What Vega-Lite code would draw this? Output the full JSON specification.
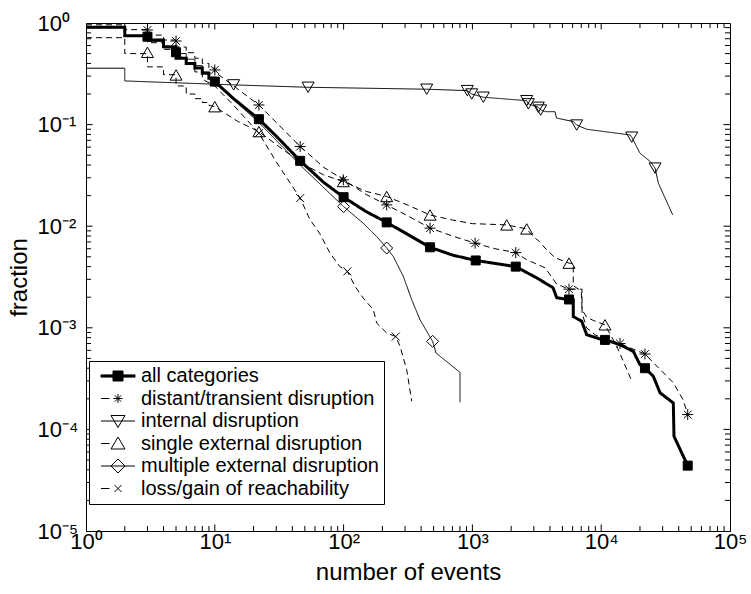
{
  "$schema": "https://vega.github.io/schema/vega-lite/v6.json",
  "width": 644,
  "height": 508,
  "autosize": "none",
  "padding": {"left": 86, "top": 23, "right": 21, "bottom": 63},
  "background": "white",
  "config": {
    "font": "Liberation Sans",
    "view": {"stroke": "black", "strokeWidth": 1},
    "axis": {"grid": false, "domainColor": "black", "labelColor": "black", "titleColor": "black", "titleFontWeight": "normal", "labelFont": "Liberation Sans", "titleFont": "Liberation Sans"}
  },
  "datasets": {
    "xticks": [{"v":2},{"v":3},{"v":4},{"v":5},{"v":6},{"v":7},{"v":8},{"v":9},{"v":20},{"v":30},{"v":40},{"v":50},{"v":60},{"v":70},{"v":80},{"v":90},{"v":200},{"v":300},{"v":400},{"v":500},{"v":600},{"v":700},{"v":800},{"v":900},{"v":2000},{"v":3000},{"v":4000},{"v":5000},{"v":6000},{"v":7000},{"v":8000},{"v":9000},{"v":20000},{"v":30000},{"v":40000},{"v":50000},{"v":60000},{"v":70000},{"v":80000},{"v":90000}],
    "xmajor": [{"v":10},{"v":100},{"v":1000},{"v":10000}],
    "yticks": [{"v":0.00002},{"v":0.00003},{"v":0.00004},{"v":0.00005},{"v":0.00006},{"v":0.00007},{"v":0.00008},{"v":0.00009},{"v":0.0002},{"v":0.0003},{"v":0.0004},{"v":0.0005},{"v":0.0006},{"v":0.0007},{"v":0.0008},{"v":0.0009},{"v":0.002},{"v":0.003},{"v":0.004},{"v":0.005},{"v":0.006},{"v":0.007},{"v":0.008},{"v":0.009},{"v":0.02},{"v":0.03},{"v":0.04},{"v":0.05},{"v":0.06},{"v":0.07},{"v":0.08},{"v":0.09},{"v":0.2},{"v":0.3},{"v":0.4},{"v":0.5},{"v":0.6},{"v":0.7},{"v":0.8},{"v":0.9}],
    "ymajor": [{"v":0.0001},{"v":0.001},{"v":0.01},{"v":0.1}],
    "lines": [
      {"s":"all","i":1,"x":1,"y":0.907},{"s":"all","i":2,"x":2,"y":0.907},{"s":"all","i":3,"x":2,"y":0.75},{"s":"all","i":4,"x":3,"y":0.75},{"s":"all","i":5,"x":3,"y":0.68},{"s":"all","i":6,"x":4,"y":0.68},{"s":"all","i":7,"x":4,"y":0.585},{"s":"all","i":8,"x":5,"y":0.585},{"s":"all","i":9,"x":5,"y":0.45},{"s":"all","i":10,"x":6,"y":0.45},{"s":"all","i":11,"x":6,"y":0.40},{"s":"all","i":12,"x":7,"y":0.40},{"s":"all","i":13,"x":7,"y":0.36},{"s":"all","i":14,"x":8,"y":0.36},{"s":"all","i":15,"x":8,"y":0.32},{"s":"all","i":16,"x":9,"y":0.32},{"s":"all","i":17,"x":9,"y":0.286},{"s":"all","i":18,"x":10,"y":0.286},{"s":"all","i":19,"x":10,"y":0.265},{"s":"all","i":20,"x":14,"y":0.18},{"s":"all","i":21,"x":22,"y":0.113},{"s":"all","i":22,"x":30,"y":0.077},{"s":"all","i":23,"x":46,"y":0.044},{"s":"all","i":24,"x":70,"y":0.027},{"s":"all","i":25,"x":100,"y":0.0193},{"s":"all","i":26,"x":150,"y":0.0139},{"s":"all","i":27,"x":216,"y":0.0109},{"s":"all","i":28,"x":320,"y":0.0082},{"s":"all","i":29,"x":469,"y":0.0062},{"s":"all","i":30,"x":700,"y":0.0052},{"s":"all","i":31,"x":1061,"y":0.0046},{"s":"all","i":32,"x":1500,"y":0.0043},{"s":"all","i":33,"x":2170,"y":0.0040},{"s":"all","i":34,"x":3157,"y":0.0031},{"s":"all","i":35,"x":4227,"y":0.00248},{"s":"all","i":36,"x":4510,"y":0.00198},{"s":"all","i":37,"x":5623,"y":0.00189},{"s":"all","i":38,"x":6070,"y":0.00189},{"s":"all","i":39,"x":6070,"y":0.00129},{"s":"all","i":40,"x":7060,"y":0.00116},{"s":"all","i":41,"x":7715,"y":0.000855},{"s":"all","i":42,"x":9790,"y":0.000776},{"s":"all","i":43,"x":10700,"y":0.000764},{"s":"all","i":44,"x":14000,"y":0.000682},{"s":"all","i":45,"x":17760,"y":0.000586},{"s":"all","i":46,"x":20000,"y":0.000434},{"s":"all","i":47,"x":21870,"y":0.000402},{"s":"all","i":48,"x":25400,"y":0.000333},{"s":"all","i":49,"x":28640,"y":0.000229},{"s":"all","i":50,"x":36300,"y":0.000182},{"s":"all","i":51,"x":36740,"y":0.0000855},{"s":"all","i":52,"x":46950,"y":0.000044},

      {"s":"dist","i":1,"x":1,"y":0.96},{"s":"dist","i":2,"x":2,"y":0.96},{"s":"dist","i":3,"x":2,"y":0.86},{"s":"dist","i":4,"x":3,"y":0.86},{"s":"dist","i":5,"x":3,"y":0.76},{"s":"dist","i":6,"x":4,"y":0.76},{"s":"dist","i":7,"x":4,"y":0.68},{"s":"dist","i":8,"x":5,"y":0.68},{"s":"dist","i":9,"x":5,"y":0.58},{"s":"dist","i":10,"x":6,"y":0.58},{"s":"dist","i":11,"x":6,"y":0.51},{"s":"dist","i":12,"x":7,"y":0.51},{"s":"dist","i":13,"x":7,"y":0.45},{"s":"dist","i":14,"x":8,"y":0.45},{"s":"dist","i":15,"x":8,"y":0.40},{"s":"dist","i":16,"x":9,"y":0.40},{"s":"dist","i":17,"x":9,"y":0.36},{"s":"dist","i":18,"x":10,"y":0.36},{"s":"dist","i":19,"x":10,"y":0.33},{"s":"dist","i":20,"x":14,"y":0.24},{"s":"dist","i":21,"x":22,"y":0.156},{"s":"dist","i":22,"x":30,"y":0.105},{"s":"dist","i":23,"x":46,"y":0.061},{"s":"dist","i":24,"x":70,"y":0.038},{"s":"dist","i":25,"x":100,"y":0.0286},{"s":"dist","i":26,"x":150,"y":0.0205},{"s":"dist","i":27,"x":216,"y":0.0162},{"s":"dist","i":28,"x":320,"y":0.0125},{"s":"dist","i":29,"x":469,"y":0.0096},{"s":"dist","i":30,"x":700,"y":0.008},{"s":"dist","i":31,"x":1050,"y":0.0068},{"s":"dist","i":32,"x":1500,"y":0.006},{"s":"dist","i":33,"x":2170,"y":0.0055},{"s":"dist","i":34,"x":2620,"y":0.0047},{"s":"dist","i":35,"x":3660,"y":0.0039},{"s":"dist","i":36,"x":4100,"y":0.0032},{"s":"dist","i":37,"x":4500,"y":0.0027},{"s":"dist","i":38,"x":5623,"y":0.0024},{"s":"dist","i":39,"x":7100,"y":0.0024},{"s":"dist","i":40,"x":7100,"y":0.0014},{"s":"dist","i":41,"x":7700,"y":0.001},{"s":"dist","i":42,"x":9000,"y":0.00085},{"s":"dist","i":43,"x":11000,"y":0.00076},{"s":"dist","i":44,"x":14000,"y":0.0007},{"s":"dist","i":45,"x":17000,"y":0.00063},{"s":"dist","i":46,"x":21870,"y":0.000552},{"s":"dist","i":47,"x":27000,"y":0.00042},{"s":"dist","i":48,"x":36300,"y":0.000288},{"s":"dist","i":49,"x":43200,"y":0.000196},{"s":"dist","i":50,"x":46950,"y":0.00014},

      {"s":"int","i":1,"x":1,"y":0.359},{"s":"int","i":2,"x":2,"y":0.359},{"s":"int","i":3,"x":2,"y":0.269},{"s":"int","i":4,"x":14,"y":0.246},{"s":"int","i":5,"x":53,"y":0.233},{"s":"int","i":6,"x":442,"y":0.223},{"s":"int","i":7,"x":913,"y":0.216},{"s":"int","i":8,"x":988,"y":0.2},{"s":"int","i":9,"x":1216,"y":0.186},{"s":"int","i":10,"x":2640,"y":0.172},{"s":"int","i":11,"x":2720,"y":0.16},{"s":"int","i":12,"x":3250,"y":0.148},{"s":"int","i":13,"x":3390,"y":0.139},{"s":"int","i":14,"x":3700,"y":0.134},{"s":"int","i":15,"x":4380,"y":0.134},{"s":"int","i":16,"x":4500,"y":0.116},{"s":"int","i":17,"x":6080,"y":0.107},{"s":"int","i":18,"x":6450,"y":0.099},{"s":"int","i":19,"x":7710,"y":0.09},{"s":"int","i":20,"x":16800,"y":0.079},{"s":"int","i":21,"x":17260,"y":0.0752},{"s":"int","i":22,"x":20000,"y":0.0523},{"s":"int","i":23,"x":24000,"y":0.0434},{"s":"int","i":24,"x":26180,"y":0.0373},{"s":"int","i":25,"x":27800,"y":0.0265},{"s":"int","i":26,"x":35890,"y":0.01294},

      {"s":"single","i":1,"x":1,"y":0.717},{"s":"single","i":2,"x":2,"y":0.717},{"s":"single","i":3,"x":2,"y":0.5},{"s":"single","i":4,"x":3,"y":0.5},{"s":"single","i":5,"x":3,"y":0.37},{"s":"single","i":6,"x":4,"y":0.37},{"s":"single","i":7,"x":4,"y":0.31},{"s":"single","i":8,"x":5,"y":0.31},{"s":"single","i":9,"x":5,"y":0.24},{"s":"single","i":10,"x":6,"y":0.24},{"s":"single","i":11,"x":6,"y":0.2},{"s":"single","i":12,"x":7,"y":0.2},{"s":"single","i":13,"x":7,"y":0.18},{"s":"single","i":14,"x":8,"y":0.18},{"s":"single","i":15,"x":8,"y":0.165},{"s":"single","i":16,"x":9,"y":0.165},{"s":"single","i":17,"x":9,"y":0.155},{"s":"single","i":18,"x":10,"y":0.15},{"s":"single","i":19,"x":15,"y":0.108},{"s":"single","i":20,"x":22,"y":0.0853},{"s":"single","i":21,"x":35,"y":0.055},{"s":"single","i":22,"x":50,"y":0.04},{"s":"single","i":23,"x":70,"y":0.032},{"s":"single","i":24,"x":100,"y":0.0275},{"s":"single","i":25,"x":150,"y":0.022},{"s":"single","i":26,"x":216,"y":0.0196},{"s":"single","i":27,"x":320,"y":0.016},{"s":"single","i":28,"x":469,"y":0.0129},{"s":"single","i":29,"x":700,"y":0.0115},{"s":"single","i":30,"x":1000,"y":0.0106},{"s":"single","i":31,"x":1846,"y":0.0103},{"s":"single","i":32,"x":2640,"y":0.0094},{"s":"single","i":33,"x":2970,"y":0.0079},{"s":"single","i":34,"x":3300,"y":0.0071},{"s":"single","i":35,"x":3660,"y":0.0061},{"s":"single","i":36,"x":4380,"y":0.0049},{"s":"single","i":37,"x":5623,"y":0.00433},{"s":"single","i":38,"x":6070,"y":0.0043},{"s":"single","i":39,"x":6070,"y":0.0026},{"s":"single","i":40,"x":7000,"y":0.0023},{"s":"single","i":41,"x":7100,"y":0.0015},{"s":"single","i":42,"x":7700,"y":0.00128},{"s":"single","i":43,"x":8700,"y":0.00118},{"s":"single","i":44,"x":10700,"y":0.00107},{"s":"single","i":45,"x":13200,"y":0.00066},{"s":"single","i":46,"x":17260,"y":0.0003},

      {"s":"multi","i":1,"x":1,"y":0.9},{"s":"multi","i":2,"x":2,"y":0.9},{"s":"multi","i":3,"x":2,"y":0.74},{"s":"multi","i":4,"x":3,"y":0.74},{"s":"multi","i":5,"x":3,"y":0.66},{"s":"multi","i":6,"x":4,"y":0.66},{"s":"multi","i":7,"x":4,"y":0.57},{"s":"multi","i":8,"x":5,"y":0.57},{"s":"multi","i":9,"x":5,"y":0.5},{"s":"multi","i":10,"x":6,"y":0.5},{"s":"multi","i":11,"x":6,"y":0.44},{"s":"multi","i":12,"x":7,"y":0.44},{"s":"multi","i":13,"x":7,"y":0.38},{"s":"multi","i":14,"x":8,"y":0.38},{"s":"multi","i":15,"x":8,"y":0.33},{"s":"multi","i":16,"x":9,"y":0.33},{"s":"multi","i":17,"x":9,"y":0.29},{"s":"multi","i":18,"x":10,"y":0.29},{"s":"multi","i":19,"x":10,"y":0.26},{"s":"multi","i":20,"x":14,"y":0.175},{"s":"multi","i":21,"x":22,"y":0.105},{"s":"multi","i":22,"x":46,"y":0.04},{"s":"multi","i":23,"x":70,"y":0.024},{"s":"multi","i":24,"x":100,"y":0.0156},{"s":"multi","i":25,"x":142,"y":0.0107},{"s":"multi","i":26,"x":181,"y":0.0079},{"s":"multi","i":27,"x":216,"y":0.0061},{"s":"multi","i":28,"x":243,"y":0.00504},{"s":"multi","i":29,"x":291,"y":0.0032},{"s":"multi","i":30,"x":338,"y":0.00189},{"s":"multi","i":31,"x":392,"y":0.0012},{"s":"multi","i":32,"x":491,"y":0.000735},{"s":"multi","i":33,"x":522,"y":0.000565},{"s":"multi","i":34,"x":801,"y":0.000364},{"s":"multi","i":35,"x":801,"y":0.000185},

      {"s":"loss","i":1,"x":1,"y":0.9},{"s":"loss","i":2,"x":2,"y":0.9},{"s":"loss","i":3,"x":2,"y":0.74},{"s":"loss","i":4,"x":3,"y":0.74},{"s":"loss","i":5,"x":3,"y":0.64},{"s":"loss","i":6,"x":4,"y":0.64},{"s":"loss","i":7,"x":4,"y":0.55},{"s":"loss","i":8,"x":5,"y":0.55},{"s":"loss","i":9,"x":5,"y":0.46},{"s":"loss","i":10,"x":6,"y":0.46},{"s":"loss","i":11,"x":6,"y":0.39},{"s":"loss","i":12,"x":7,"y":0.39},{"s":"loss","i":13,"x":7,"y":0.33},{"s":"loss","i":14,"x":8,"y":0.33},{"s":"loss","i":15,"x":8,"y":0.28},{"s":"loss","i":16,"x":10,"y":0.24},{"s":"loss","i":17,"x":14,"y":0.155},{"s":"loss","i":18,"x":22,"y":0.0823},{"s":"loss","i":19,"x":30,"y":0.043},{"s":"loss","i":20,"x":46,"y":0.0189},{"s":"loss","i":21,"x":54.8,"y":0.0116},{"s":"loss","i":22,"x":65,"y":0.00855},{"s":"loss","i":23,"x":78.4,"y":0.00544},{"s":"loss","i":24,"x":93.6,"y":0.004},{"s":"loss","i":25,"x":107,"y":0.00359},{"s":"loss","i":26,"x":123,"y":0.00255},{"s":"loss","i":27,"x":142,"y":0.00196},{"s":"loss","i":28,"x":170,"y":0.00151},{"s":"loss","i":29,"x":181,"y":0.00111},{"s":"loss","i":30,"x":216,"y":0.00089},{"s":"loss","i":31,"x":254,"y":0.00082},{"s":"loss","i":32,"x":274,"y":0.00066},{"s":"loss","i":33,"x":309,"y":0.000387},{"s":"loss","i":34,"x":338,"y":0.000189}
    ],
    "marks": [
      {"s":"all","x":3,"y":0.733},{"s":"all","x":5,"y":0.515},{"s":"all","x":10,"y":0.265},{"s":"all","x":22,"y":0.113},{"s":"all","x":46,"y":0.044},{"s":"all","x":100,"y":0.0193},{"s":"all","x":216,"y":0.0109},{"s":"all","x":469,"y":0.0062},{"s":"all","x":1061,"y":0.0046},{"s":"all","x":2170,"y":0.004},{"s":"all","x":5623,"y":0.0019},{"s":"all","x":10700,"y":0.00076},{"s":"all","x":21870,"y":0.0004},{"s":"all","x":46950,"y":0.000044},
      {"s":"dist","x":3,"y":0.853},{"s":"dist","x":5,"y":0.665},{"s":"dist","x":10,"y":0.345},{"s":"dist","x":22,"y":0.156},{"s":"dist","x":46,"y":0.0608},{"s":"dist","x":99.5,"y":0.0286},{"s":"dist","x":216,"y":0.0162},{"s":"dist","x":469,"y":0.00957},{"s":"dist","x":1050,"y":0.0068},{"s":"dist","x":2170,"y":0.0055},{"s":"dist","x":5623,"y":0.0024},{"s":"dist","x":14000,"y":0.0007},{"s":"dist","x":21870,"y":0.000552},{"s":"dist","x":46950,"y":0.00014},
      {"s":"int","x":14,"y":0.246},{"s":"int","x":53,"y":0.233},{"s":"int","x":442,"y":0.223},{"s":"int","x":913,"y":0.216},{"s":"int","x":988,"y":0.2},{"s":"int","x":1216,"y":0.186},{"s":"int","x":2640,"y":0.172},{"s":"int","x":2720,"y":0.16},{"s":"int","x":3250,"y":0.148},{"s":"int","x":3390,"y":0.139},{"s":"int","x":6450,"y":0.099},{"s":"int","x":17260,"y":0.0752},{"s":"int","x":26180,"y":0.0373},
      {"s":"single","x":3,"y":0.515},{"s":"single","x":5,"y":0.308},{"s":"single","x":10,"y":0.15},{"s":"single","x":22,"y":0.0853},{"s":"single","x":99.5,"y":0.0275},{"s":"single","x":216,"y":0.0196},{"s":"single","x":469,"y":0.0129},{"s":"single","x":1846,"y":0.0103},{"s":"single","x":2640,"y":0.0094},{"s":"single","x":5623,"y":0.00433},{"s":"single","x":10700,"y":0.00107},
      {"s":"multi","x":100,"y":0.0156},{"s":"multi","x":216,"y":0.0061},{"s":"multi","x":491,"y":0.000735},
      {"s":"loss","x":22,"y":0.0823},{"s":"loss","x":46,"y":0.0189},{"s":"loss","x":107,"y":0.00359},{"s":"loss","x":254,"y":0.00082}
    ]
  },
  "resolve": {
    "scale": {"shape": "independent", "fill": "independent", "stroke": "independent"}
  },
  "layer": [
    {
      "data": {"name": "lines"},
      "mark": {"type": "line", "color": "black", "strokeJoin": "miter"},
      "encoding": {
        "x": {"field": "x", "type": "quantitative",
          "scale": {"type": "log", "domain": [1, 100000], "nice": false},
          "axis": {"orient": "bottom", "ticks": false,
            "values": [1,10,100,1000,10000,100000],
            "labelExpr": "['10⁰','10¹','10²','10³','10⁴','10⁵'][round(log(datum.value)/LN10)]",
            "labelOverlap": false, "labelFlush": false, "labelFontSize": 22, "labelPadding": 0,
            "title": "number of events", "titleFontSize": 24, "titlePadding": 8}},
        "y": {"field": "y", "type": "quantitative",
          "scale": {"type": "log", "domain": [0.00001, 1], "nice": false},
          "axis": {"orient": "left", "ticks": false,
            "values": [0.00001,0.0001,0.001,0.01,0.1,1],
            "labelExpr": "['10⁻⁵','10⁻⁴','10⁻³','10⁻²','10⁻¹','10⁰'][round(log(datum.value)/LN10)+5]",
            "labelOverlap": false, "labelFlush": false, "labelFontSize": 22, "labelAlign": "left", "labelBaseline": "middle", "labelPadding": 49,
            "title": "fraction", "titleFontSize": 24, "titlePadding": 6}},
        "detail": {"field": "s"},
        "order": {"field": "i", "type": "quantitative"},
        "strokeWidth": {"condition": {"test": "datum.s === 'all'", "value": 3}, "value": 1},
        "strokeDash": {"condition": {"test": "indexof(['dist','single','loss'], datum.s) >= 0", "value": [6, 4]}, "value": [1, 0]}
      }
    },
    {
      "data": {"name": "xticks"},
      "mark": {"type": "rule", "color": "black", "strokeWidth": 1, "opacity": 1},
      "encoding": {"x": {"field": "v", "type": "quantitative"}, "y": {"datum": 0.00001, "type": "quantitative"}, "y2": {"datum": 0.0000112}}
    },
    {
      "data": {"name": "xticks"},
      "mark": {"type": "rule", "color": "black", "strokeWidth": 1, "opacity": 1},
      "encoding": {"x": {"field": "v", "type": "quantitative"}, "y": {"datum": 1, "type": "quantitative"}, "y2": {"datum": 0.893}}
    },
    {
      "data": {"name": "xmajor"},
      "mark": {"type": "rule", "color": "black", "strokeWidth": 1, "opacity": 1},
      "encoding": {"x": {"field": "v", "type": "quantitative"}, "y": {"datum": 0.00001, "type": "quantitative"}, "y2": {"datum": 0.0000116}}
    },
    {
      "data": {"name": "xmajor"},
      "mark": {"type": "rule", "color": "black", "strokeWidth": 1, "opacity": 1},
      "encoding": {"x": {"field": "v", "type": "quantitative"}, "y": {"datum": 1, "type": "quantitative"}, "y2": {"datum": 0.863}}
    },
    {
      "data": {"name": "yticks"},
      "mark": {"type": "rule", "color": "black", "strokeWidth": 1, "opacity": 1},
      "encoding": {"y": {"field": "v", "type": "quantitative"}, "x": {"datum": 1, "type": "quantitative"}, "x2": {"datum": 1.094}}
    },
    {
      "data": {"name": "yticks"},
      "mark": {"type": "rule", "color": "black", "strokeWidth": 1, "opacity": 1},
      "encoding": {"y": {"field": "v", "type": "quantitative"}, "x": {"datum": 100000, "type": "quantitative"}, "x2": {"datum": 91400}}
    },
    {
      "data": {"name": "ymajor"},
      "mark": {"type": "rule", "color": "black", "strokeWidth": 1, "opacity": 1},
      "encoding": {"y": {"field": "v", "type": "quantitative"}, "x": {"datum": 1, "type": "quantitative"}, "x2": {"datum": 1.124}}
    },
    {
      "data": {"name": "ymajor"},
      "mark": {"type": "rule", "color": "black", "strokeWidth": 1, "opacity": 1},
      "encoding": {"y": {"field": "v", "type": "quantitative"}, "x": {"datum": 100000, "type": "quantitative"}, "x2": {"datum": 89000}}
    },
    {
      "data": {"name": "marks"},
      "mark": {"type": "point", "filled": false, "stroke": "black", "strokeWidth": 1, "opacity": 1},
      "encoding": {
        "x": {"field": "x", "type": "quantitative"},
        "y": {"field": "y", "type": "quantitative"},
        "shape": {"field": "s", "type": "nominal", "legend": null,
          "scale": {"domain": ["all","dist","int","single","multi","loss"],
            "range": ["square", "M-1,0H1M0,-1V1M-0.7,-0.7L0.7,0.7M-0.7,0.7L0.7,-0.7", "triangle-down", "triangle-up", "diamond", "M-0.7,-0.7L0.7,0.7M-0.7,0.7L0.7,-0.7"]}},
        "fill": {"condition": {"test": "datum.s === 'all'", "value": "black"}, "value": "transparent"},
        "size": {"condition": [{"test": "datum.s === 'all'", "value": 81}, {"test": "datum.s === 'dist'", "value": 121}, {"test": "datum.s === 'loss'", "value": 130}], "value": 144}
      }
    },
    {
      "data": {"values": []},
      "mark": {"type": "point", "filled": false, "strokeWidth": 1, "opacity": 1},
      "encoding": {
        "shape": {"field": "name", "type": "nominal",
          "scale": {"domain": ["all categories", "distant/transient disruption", "internal disruption", "single external disruption", "multiple external disruption", "loss/gain of reachability"],
            "range": [
              "M-3.4,-0.22H3.4V0.22H-3.4ZM-1,-1H1V1H-1Z",
              "M-3.4,0H-1.7M-0.9,0H0.9M0,-0.9V0.9M-0.64,-0.64L0.64,0.64M-0.64,0.64L0.64,-0.64",
              "M-3.4,0H3.4M-1.4,-1.1H1.4L0,1.3Z",
              "M-3.4,0H-1.7M-1.4,1.1H1.4L0,-1.3Z",
              "M-3.4,0H3.4M-1.4,0L0,-1.4L1.4,0L0,1.4Z",
              "M-3.4,0H-1.7M-0.7,-0.7L0.7,0.7M-0.7,0.7L0.7,-0.7"
            ]},
          "legend": {"title": null, "orient": "none", "legendX": 3, "legendY": 338,
            "strokeColor": "black", "fillColor": "white", "padding": 5,
            "symbolSize": 100, "symbolStrokeWidth": 1, "symbolStrokeColor": "black", "symbolOpacity": 1,
            "symbolOffset": 14, "labelOffset": 13, "rowPadding": 2.5,
            "labelFont": "Liberation Sans", "labelFontSize": 20, "labelColor": "black", "labelLimit": 400}},
        "fill": {"field": "name", "type": "nominal",
          "scale": {"domain": ["all categories", "distant/transient disruption", "internal disruption", "single external disruption", "multiple external disruption", "loss/gain of reachability"],
            "range": ["black", "transparent", "transparent", "transparent", "transparent", "transparent"]},
          "legend": {"title": null, "orient": "none", "legendX": 3, "legendY": 338,
            "strokeColor": "black", "fillColor": "white", "padding": 5,
            "symbolSize": 100, "symbolStrokeWidth": 1, "symbolStrokeColor": "black", "symbolOpacity": 1,
            "symbolOffset": 14, "labelOffset": 13, "rowPadding": 2.5,
            "labelFont": "Liberation Sans", "labelFontSize": 20, "labelColor": "black", "labelLimit": 400}},
        "stroke": {"field": "name", "type": "nominal",
          "scale": {"domain": ["all categories", "distant/transient disruption", "internal disruption", "single external disruption", "multiple external disruption", "loss/gain of reachability"],
            "range": ["black", "black", "black", "black", "black", "black"]},
          "legend": {"title": null, "orient": "none", "legendX": 3, "legendY": 338,
            "strokeColor": "black", "fillColor": "white", "padding": 5,
            "symbolSize": 100, "symbolStrokeWidth": 1, "symbolStrokeColor": "black", "symbolOpacity": 1,
            "symbolOffset": 14, "labelOffset": 13, "rowPadding": 2.5,
            "labelFont": "Liberation Sans", "labelFontSize": 20, "labelColor": "black", "labelLimit": 400}}
      }
    }
  ]
}
